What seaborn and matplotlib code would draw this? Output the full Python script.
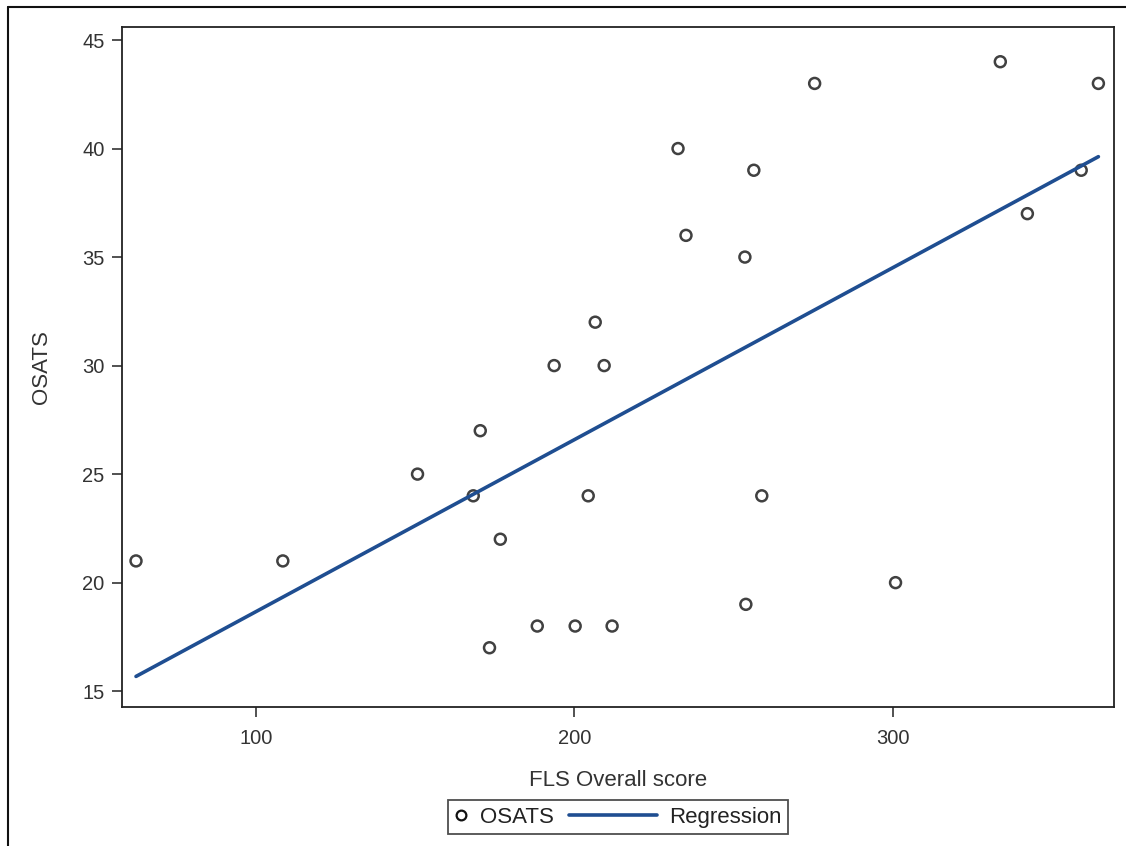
import numpy as np
import pandas as pd
import matplotlib
matplotlib.use("Agg")
import matplotlib.pyplot as plt
from matplotlib.lines import Line2D
from matplotlib.legend_handler import HandlerLine2D
import seaborn as sns

# FLS overall score vs OSATS
fls_score = [62.4, 108.5, 150.8, 168.3, 170.5, 173.4, 176.8, 188.4, 193.7, 200.3,
             204.4, 206.6, 209.4, 211.9, 232.6, 235.1, 253.6, 253.9, 256.4, 258.9,
             275.5, 300.9, 333.8, 342.3, 359.2, 364.6]
osats = [21, 21, 25, 24, 27, 17, 22, 18, 30, 18,
         24, 32, 30, 18, 40, 36, 35, 19, 39, 24,
         43, 20, 44, 37, 39, 43]
x_ticks = [100, 200, 300]
y_ticks = [15, 20, 25, 30, 35, 40, 45]

line_color = "#1f4e91"
ink = "#111111"


class LongLine(HandlerLine2D):
    """legend line that reaches back into the column gap"""
    def create_artists(self, legend, orig_handle, xdescent, ydescent, width, height, fontsize, trans):
        ext = 3.35 * fontsize
        return super().create_artists(legend, orig_handle, xdescent + ext, ydescent,
                                      width + ext, height, fontsize, trans)


sns.set_theme(style="white")
plt.rcParams['font.family'] = ['Liberation Sans', 'DejaVu Sans']

df = pd.DataFrame({'fls': fls_score, 'osats': osats})

fig = plt.figure(figsize=(11.26, 8.46), dpi=100)
ax = fig.add_axes([122 / 1126, 1 - 707 / 846, (1114 - 122) / 1126, (707 - 27) / 846])

sns.regplot(data=df, x='fls', y='osats', ax=ax, ci=None, truncate=True,
            scatter_kws=dict(s=62, facecolors='none', edgecolors=ink, linewidths=1.8),
            line_kws=dict(color=line_color, lw=2.6))

ax.set_xlim(58, 369.5)
ax.set_ylim(14.27, 45.6)
ax.set_xticks(x_ticks)
ax.set_yticks(y_ticks)
ax.tick_params(direction='out', length=7.5, width=1.1, color='#222222',
               labelsize=14.5, labelcolor='#333333', left=True, bottom=True)
ax.tick_params(axis='x', pad=8)
ax.tick_params(axis='y', pad=5)
for s in ax.spines.values():
    s.set_color('#222222')
    s.set_linewidth(1.3)

ax.set_xlabel('FLS Overall score', fontsize=16, color='#333333', labelpad=16)
ax.set_ylabel('OSATS', fontsize=16, color='#333333', labelpad=22)

osats_handle = Line2D([], [], marker='o', ls='none', markersize=7, markerfacecolor='none',
                      markeredgecolor=ink, markeredgewidth=1.6, label='OSATS')
reg_handle = Line2D([], [], color=line_color, lw=2.6, label='Regression')
leg = fig.legend(handles=[osats_handle, reg_handle], loc='center',
                 bbox_to_anchor=(618 / 1126, 1 - 817 / 846),
                 ncol=2, fontsize=16, frameon=True, fancybox=False, handlelength=0.6,
                 handletextpad=0.55, columnspacing=4.05, borderpad=0.3, labelcolor='#222222',
                 handler_map={reg_handle: LongLine()})
leg.get_frame().set_edgecolor('#222222')
leg.get_frame().set_linewidth(1.3)

# outer frame of the screenshot (top and left edges)
fig.add_artist(Line2D([8 / 1126, 1], [1 - 7 / 846, 1 - 7 / 846], color=ink, lw=1.5))
fig.add_artist(Line2D([8 / 1126, 8 / 1126], [0, 1 - 7 / 846], color=ink, lw=1.5))

fig.savefig('out.png', dpi=100)
